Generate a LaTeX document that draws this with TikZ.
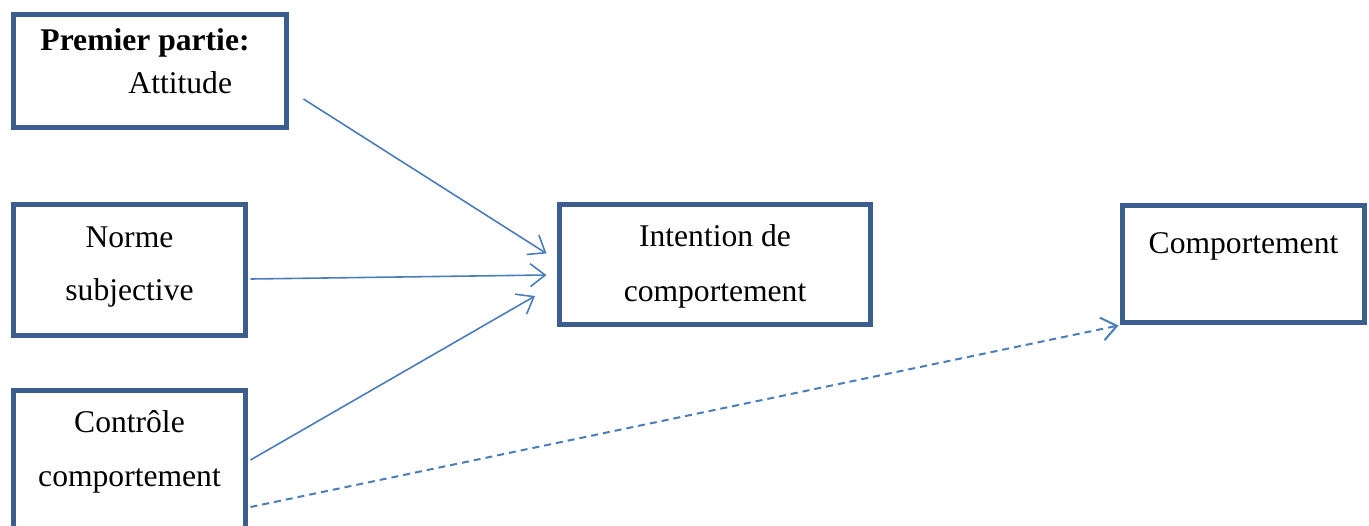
\documentclass[tikz,border=0pt]{standalone}
\usepackage{fontspec}
\setmainfont{Liberation Serif}
\usetikzlibrary{arrows.meta}
\definecolor{boxblue}{HTML}{3B5E8E}
\definecolor{arrblue}{HTML}{4A7EBB}
\tikzset{
  blockbox/.style={draw=boxblue, line width=2.5pt, fill=white, inner sep=0pt, align=center,
    font=\fontsize{15.8}{26.5}\selectfont},
  conn/.style={draw=arrblue, line width=0.8pt, -{Straight Barb[length=7.5pt,width=11.5pt]}},
  dashconn/.style={draw=arrblue, line width=1pt, dash pattern=on 3.5pt off 2.5pt,
    -{Straight Barb[length=7.5pt,width=11.5pt]}}
}
\begin{document}
\begin{tikzpicture}[x=0.5pt,y=-0.5pt]
\useasboundingbox (0,0) rectangle (1369,525);
\node[blockbox, align=left, minimum width=136.5pt, minimum height=56.5pt,
  font=\fontsize{15.8}{21.5}\selectfont, text height=33.5pt, text depth=11.5pt]
  (att) at (150,71) {\textbf{Premier partie:}\hspace*{5pt}\\\hspace*{44pt}Attitude};
\node[blockbox, minimum width=116pt, minimum height=65.5pt, text height=38.5pt, text depth=8.5pt]
  (norme) at (129.5,270) {Norme\\subjective};
\node[blockbox, minimum width=116pt, minimum height=84.75pt,
  font=\fontsize{15.8}{27}\selectfont, text height=39pt, text depth=28.25pt]
  (ctrl) at (129.5,475.25) {Contrôle\\comportement};
\node[blockbox, minimum width=155.5pt, minimum height=60pt,
  font=\fontsize{15.8}{27.5}\selectfont, text height=39.5pt, text depth=3pt]
  (int) at (715,264.5) {Intention de\\comportement};
\node[blockbox, minimum width=121pt, minimum height=58.5pt, text height=12pt, text depth=22.7pt]
  (comp) at (1243.5,264) {Comportement};
\draw[conn] ([shift={(14.5,28)}]att.east) -- ([shift={(-10.5,-11)}]int.west);
\draw[conn] ([shift={(2.5,9)}]norme.east) -- ([shift={(-10.5,10.5)}]int.west);
\draw[conn] ([shift={(2.5,-15.25)}]ctrl.east) -- ([shift={(-22,31.5)}]int.west);
\draw[dashconn] ([shift={(2.5,31.75)}]ctrl.east) -- ([shift={(-1.5,0.5)}]comp.south west);
\end{tikzpicture}
\end{document}
